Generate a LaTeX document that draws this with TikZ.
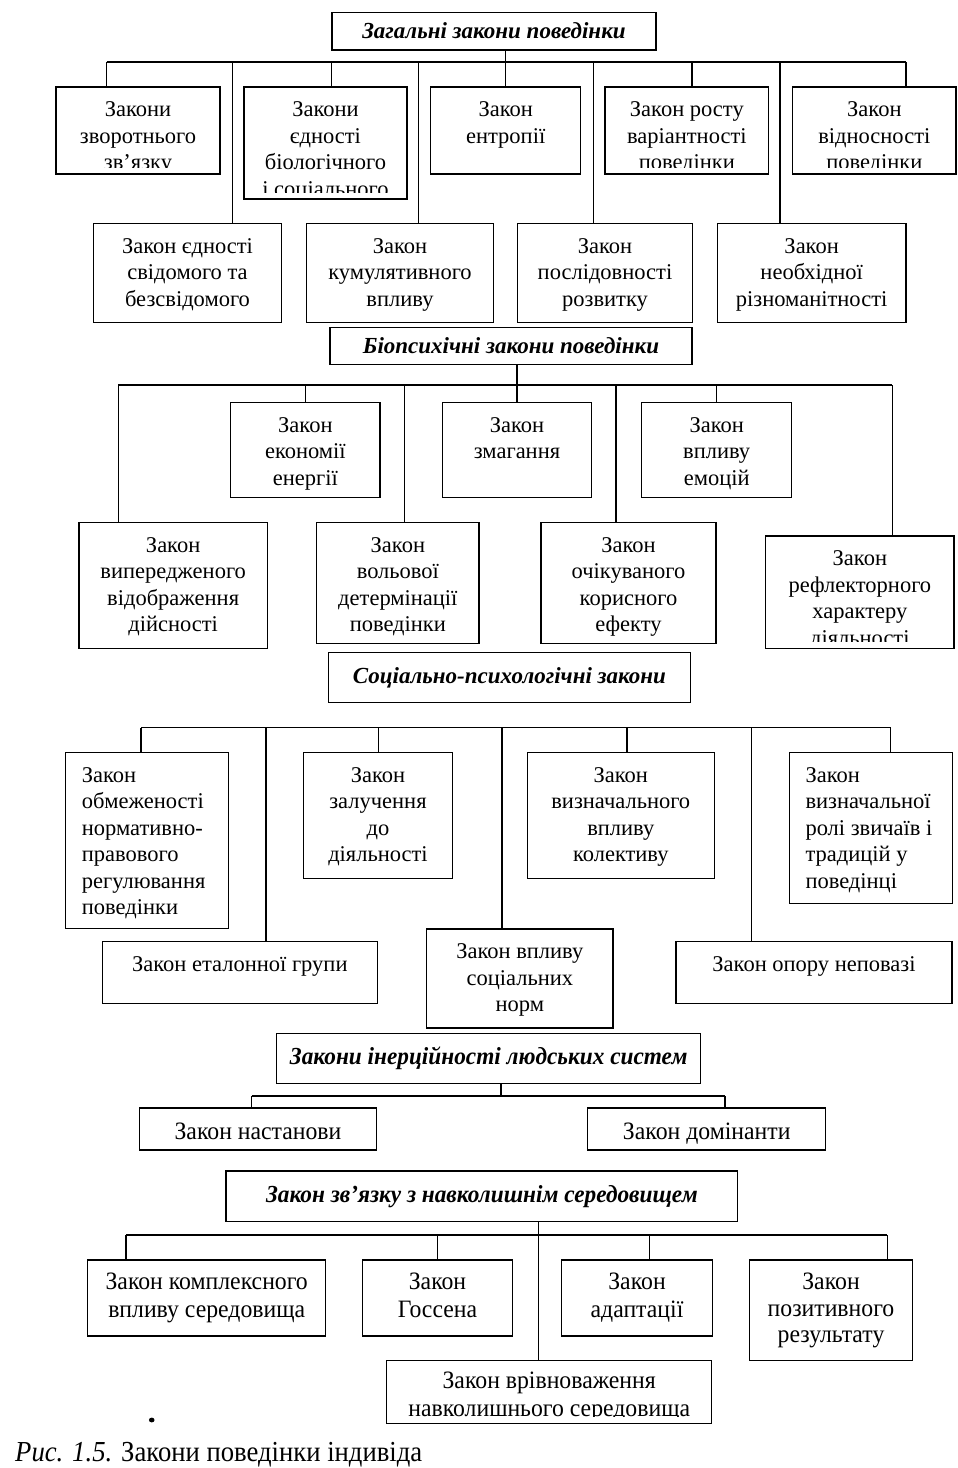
\documentclass[tikz,border=0pt]{standalone}
\usepackage{fontspec}
\setmainfont{Liberation Serif}
\newfontfamily\condfont{Liberation Serif}[FakeStretch=0.95]
\newfontfamily\capfont{Liberation Serif}[FakeStretch=0.92]

\tikzset{
  lawbox/.style={draw, line width=1.4pt, inner sep=0pt, outer sep=0pt},
  lawtext/.style={anchor=north, align=center, inner sep=0pt, font=\fontsize{22.5}{26.5}\selectfont},
  condtext/.style={font=\condfont\fontsize{25}{28}\selectfont},
  headbox/.style={draw, line width=1.4pt, inner sep=0pt, outer sep=0pt, font=\bfseries\itshape\fontsize{23}{26}\selectfont},
  condhead/.style={font=\condfont\bfseries\itshape\fontsize{24.5}{28}\selectfont},
  link/.style={line width=1.1pt},
}

% #1 text options, #2 name, #3 x1, #4 y1, #5 x2, #6 y2, #7 text
\newcommand\lawbox[7][]{%
  \node[lawbox, minimum width={#5-#3}, minimum height={#6-#4}] (#2) at ({(#3+#5)/2},{(#4+#6)/2}) {};
  \begin{scope}
    \clip (#3,#4) rectangle (#5,{#6-6.5});
    \node[lawtext,#1] (#2-t) at ({(#3+#5)/2},{#4+11}) {\strut #7};
  \end{scope}}
\newcommand\lawboxL[7][]{%
  \node[lawbox, minimum width={#5-#3}, minimum height={#6-#4}] (#2) at ({(#3+#5)/2},{(#4+#6)/2}) {};
  \begin{scope}
    \clip (#3,#4) rectangle (#5,{#6-6.5});
    \node[lawtext,anchor=north west,align=left,#1] (#2-t) at ({#3+16},{#4+11}) {\strut #7};
  \end{scope}}
% #1 options, #2 name, #3 x1, #4 y1, #5 x2, #6 y2, #7 text
\newcommand\headbox[7][]{%
  \node[headbox, minimum width={#5-#3}, minimum height={#6-#4}, #1] (#2) at ({(#3+#5)/2},{(#4+#6)/2}) {#7};}

\begin{document}
\begin{tikzpicture}[x=1pt, y=-1pt]
\useasboundingbox (0,0) rectangle (958,1468);
\fill[white] (0,0) rectangle (958,1468);

% ---------------- Section 1 ----------------
\headbox{h1}{332}{12.3}{656}{50}{Загальні закони поведінки}
\lawbox{z1}{56}{87}{220}{174}{Закони\\зворотнього\\зв’язку}
\lawbox{z2}{244}{87}{407}{199}{Закони\\єдності\\біологічного\\і соціального}
\lawbox{e1}{430.7}{87}{580.7}{174}{Закон\\ентропії}
\lawbox{z4}{605}{87}{768.7}{174}{Закон росту\\варіантності\\поведінки}
\lawbox{z5}{792.7}{87}{956}{174}{Закон\\відносності\\поведінки}
\lawbox{a1}{93.3}{223.3}{281.7}{322.7}{Закон єдності\\свідомого та\\безсвідомого}
\lawbox{b1}{306.7}{223.3}{493.3}{322.7}{Закон\\кумулятивного\\впливу}
\lawbox{c1}{517.3}{223.3}{692.7}{322.7}{Закон\\послідовності\\розвитку}
\lawbox{d1}{717.3}{223.3}{906}{322.7}{Закон\\необхідної\\різноманітності}

\coordinate (j11) at (106.7,62);
\coordinate (j12) at (232.3,62);
\coordinate (j13) at (331.7,62);
\coordinate (j14) at (418.7,62);
\coordinate (j15) at (593.3,62);
\coordinate (j16) at (692,62);
\coordinate (j17) at (780,62);
\coordinate (j18) at (906,62);
\draw[link] (j11) -- (j18);
\draw[link] (h1.south -| e1.north) -- (e1.north);
\draw[link] (j11) -- (j11 |- z1.north);
\draw[link] (j12) -- (j12 |- a1.north);
\draw[link] (j13) -- (j13 |- z2.north);
\draw[link] (j14) -- (j14 |- b1.north);
\draw[link] (j15) -- (j15 |- c1.north);
\draw[link] (j16) -- (j16 |- z4.north);
\draw[link] (j17) -- (j17 |- d1.north);
\draw[link] (j18) -- (j18 |- z5.north);

% ---------------- Section 2 ----------------
\headbox{h2}{330}{327.3}{692}{364.3}{Біопсихічні закони поведінки}
\lawbox{ek}{230.7}{402.3}{380}{497.7}{Закон\\економії\\енергії}
\lawbox{zm}{442.3}{402.3}{591.7}{497.7}{Закон\\змагання}
\lawbox{em}{641.7}{402.3}{791.7}{497.7}{Закон\\впливу\\емоцій}
\lawbox{vy}{79}{522.3}{267.3}{648.3}{Закон\\випередженого\\відображення\\дійсності}
\lawbox{vo}{316.7}{522.3}{479}{643.3}{Закон\\вольової\\детермінації\\поведінки}
\lawbox{oc}{541}{522.3}{716}{643.3}{Закон\\очікуваного\\корисного\\ефекту}
\lawbox{rf}{765.7}{536}{954}{648.3}{Закон\\рефлекторного\\характеру\\діяльності}

\coordinate (j21) at (118.3,385);
\coordinate (j22) at (404.3,385);
\coordinate (j23) at (616,385);
\coordinate (j24) at (892.3,385);
\draw[link] (j21) -- (j24);
\draw[link] (h2.south -| zm.north) -- (zm.north);
\draw[link] (j21) -- (j21 |- vy.north);
\draw[link] (ek.north |- j21) -- (ek.north);
\draw[link] (j22) -- (j22 |- vo.north);
\draw[link] (j23) -- (j23 |- oc.north);
\draw[link] (em.north |- j21) -- (em.north);
\draw[link] (j24) -- (j24 |- rf.north);

% ---------------- Section 3 ----------------
\headbox{h3}{328.3}{652.7}{690.7}{702.3}{Соціально-психологічні закони}
\lawboxL{ob}{65.7}{752.7}{228.3}{928.7}{Закон\\обмеженості\\нормативно-\\правового\\регулювання\\поведінки}
\lawbox{zl}{303.3}{752.7}{452.7}{878.7}{Закон\\залучення\\до\\діяльності}
\lawbox{ko}{527.3}{752.7}{714.3}{878.7}{Закон\\визначального\\впливу\\колективу}
\lawboxL{tr}{789.3}{752.7}{952.7}{903.3}{Закон\\визначальної\\ролі звичаїв і\\традицій у\\поведінці}
\lawbox{et}{102.3}{941.7}{377.3}{1003.3}{Закон еталонної групи}
\lawbox{no}{426.7}{929}{613}{1028}{Закон впливу\\соціальних\\норм}
\lawbox{op}{676}{941.7}{952}{1003.3}{Закон опору неповазі}

\coordinate (j31) at (141,727.7);
\coordinate (j32) at (266,727.7);
\coordinate (j33) at (378.3,727.7);
\coordinate (j34) at (502,727.7);
\coordinate (j35) at (627,727.7);
\coordinate (j36) at (751.7,727.7);
\coordinate (j37) at (890.7,727.7);
\draw[link] (j31) -- (j37);
\draw[link] (j31) -- (j31 |- ob.north);
\draw[link] (j32) -- (j32 |- et.north);
\draw[link] (j33) -- (j33 |- zl.north);
\draw[link] (j34) -- (j34 |- no.north);
\draw[link] (j35) -- (j35 |- ko.north);
\draw[link] (j36) -- (j36 |- op.north);
\draw[link] (j37) -- (j37 |- tr.north);

% ---------------- Section 4 ----------------
\headbox[condhead]{h4}{276.7}{1033.3}{700.7}{1083.3}{Закони інерційності людських систем}
\lawbox[condtext,yshift=-0.4pt]{na}{139.3}{1108}{376.7}{1150}{Закон настанови}
\lawbox[condtext,yshift=-0.4pt]{dm}{587.7}{1108}{825.7}{1150}{Закон домінанти}
\coordinate (j41) at (251.7,1096);
\coordinate (j42) at (725,1096);
\coordinate (j43) at (501,1096);
\draw[link] (j41) -- (j42);
\draw[link] (h4.south -| j43) -- (j43);
\draw[link] (j41) -- (j41 |- na.north);
\draw[link] (j42) -- (j42 |- dm.north);

% ---------------- Section 5 ----------------
\headbox[condhead]{h5}{226}{1171}{737.7}{1221.7}{Закон зв’язку з навколишнім середовищем}
\lawbox[condtext,yshift=1.3pt]{kp}{87.7}{1260}{325.7}{1336}{Закон комплексного\\впливу середовища}
\lawbox[condtext,yshift=1.3pt]{gs}{362.3}{1260}{512.7}{1336}{Закон\\Госсена}
\lawbox[condtext,yshift=1.3pt]{ad}{561.7}{1260}{712.3}{1336}{Закон\\адаптації}
\lawbox[condtext,yshift=0.6pt,font=\condfont\fontsize{25}{26.7}\selectfont]{pz}{749.3}{1260}{912.7}{1360.7}{Закон\\позитивного\\результату}
\lawbox[condtext,yshift=2.9pt]{vr}{386.7}{1360.7}{711.7}{1423.3}{Закон врівноваження\\навколишнього середовища}
\coordinate (j51) at (126,1235);
\coordinate (j52) at (437.7,1235);
\coordinate (j53) at (538.3,1235);
\coordinate (j54) at (649.3,1235);
\coordinate (j55) at (887.3,1235);
\draw[link] (j51) -- (j55);
\draw[link] (h5.south -| j53) -- (j53 |- vr.north);
\draw[link] (j51) -- (j51 |- kp.north);
\draw[link] (j52) -- (j52 |- gs.north);
\draw[link] (j54) -- (j54 |- ad.north);
\draw[link] (j55) -- (j55 |- pz.north);

% speck and caption
\fill (151.7,1420) ellipse (2.8 and 2.4);
\node[anchor=base west, inner sep=0pt, font=\capfont\fontsize{29}{34}\selectfont] (cap) at (15,1461) {\textit{Рис. 1.5.} Закони поведінки індивіда};
\end{tikzpicture}
\end{document}
